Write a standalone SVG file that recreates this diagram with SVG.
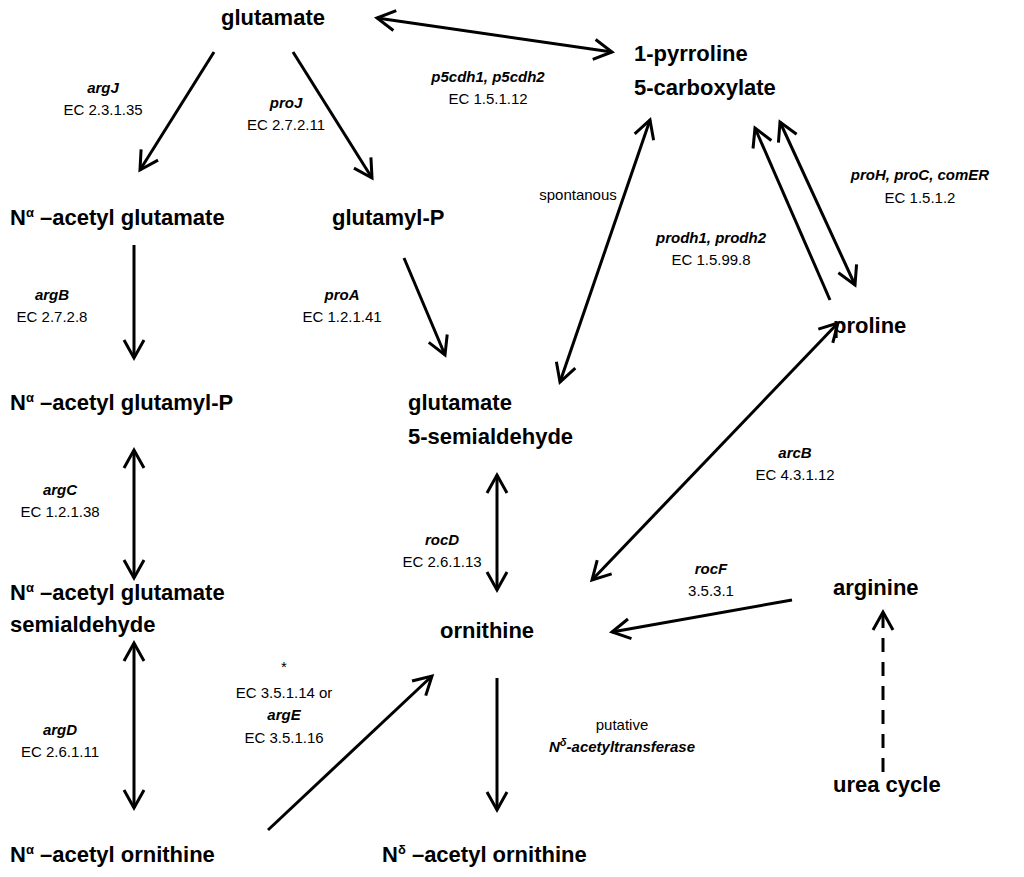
<svg xmlns="http://www.w3.org/2000/svg" width="1024" height="877" viewBox="0 0 1024 877">
<style>
.n{font-family:"Liberation Sans",Arial,sans-serif;font-weight:bold;font-size:22px;fill:#000}
.l{font-family:"Liberation Sans",Arial,sans-serif;font-size:15px;fill:#000;text-anchor:middle}
.i{font-style:italic;font-weight:bold}
.c line{stroke:#000;stroke-width:3;fill:none}
.d{stroke-dasharray:14,10}
</style>
<defs>
<marker id="a" viewBox="0 0 24 24" refX="22" refY="12" markerWidth="24" markerHeight="24" markerUnits="userSpaceOnUse" orient="auto-start-reverse" style="overflow:visible">
<polyline points="4,2 22,12 4,22" fill="none" stroke="#000" stroke-width="3"/>
</marker>
</defs>
<rect width="1024" height="877" fill="#fff"/>
<g class="c" id="connectors">
<line x1="377" y1="18" x2="612" y2="52" marker-start="url(#a)" marker-end="url(#a)"/>
<line x1="214" y1="52" x2="140" y2="170" marker-end="url(#a)"/>
<line x1="293" y1="52" x2="372" y2="178" marker-end="url(#a)"/>
<line x1="134" y1="245" x2="134" y2="358" marker-end="url(#a)"/>
<line x1="404" y1="258" x2="445" y2="355" marker-end="url(#a)"/>
<line x1="134" y1="450" x2="134" y2="578" marker-start="url(#a)" marker-end="url(#a)"/>
<line x1="134" y1="643" x2="134" y2="808" marker-start="url(#a)" marker-end="url(#a)"/>
<line x1="268" y1="830" x2="432" y2="676" marker-end="url(#a)"/>
<line x1="497" y1="678" x2="497" y2="810" marker-end="url(#a)"/>
<line x1="497" y1="475" x2="497" y2="590" marker-start="url(#a)" marker-end="url(#a)"/>
<line x1="560" y1="382" x2="650" y2="120" marker-start="url(#a)" marker-end="url(#a)"/>
<line x1="830" y1="300" x2="755" y2="128" marker-end="url(#a)"/>
<line x1="780" y1="122" x2="855" y2="285" marker-start="url(#a)" marker-end="url(#a)"/>
<line x1="592" y1="580" x2="838" y2="323" marker-start="url(#a)" marker-end="url(#a)"/>
<line x1="792" y1="600" x2="612" y2="632" marker-end="url(#a)"/>
<line class="d" x1="883" y1="772" x2="883" y2="612" marker-end="url(#a)"/>
</g>
<g id="glutamate"><text class="n" x="273" y="25" text-anchor="middle">glutamate</text></g>
<g id="p5c"><text class="n" x="634" y="61">1-pyrroline</text><text class="n" x="634" y="95">5-carboxylate</text></g>
<g id="nag"><text class="n" x="10" y="225">N<tspan font-size="13" dy="-8">α</tspan><tspan dy="8"> –acetyl glutamate</tspan></text></g>
<g id="glutamylP"><text class="n" x="332" y="225">glutamyl-P</text></g>
<g id="nagp"><text class="n" x="10" y="410">N<tspan font-size="13" dy="-8">α</tspan><tspan dy="8"> –acetyl glutamyl-P</tspan></text></g>
<g id="gsa"><text class="n" x="408" y="410">glutamate</text><text class="n" x="408" y="444">5-semialdehyde</text></g>
<g id="proline"><text class="n" x="833" y="333">proline</text></g>
<g id="nags"><text class="n" x="10" y="600">N<tspan font-size="13" dy="-8">α</tspan><tspan dy="8"> –acetyl glutamate</tspan></text><text class="n" x="10" y="632">semialdehyde</text></g>
<g id="ornithine"><text class="n" x="440" y="638">ornithine</text></g>
<g id="arginine"><text class="n" x="833" y="595">arginine</text></g>
<g id="urea"><text class="n" x="833" y="792">urea cycle</text></g>
<g id="nao"><text class="n" x="10" y="862">N<tspan font-size="13" dy="-8">α</tspan><tspan dy="8"> –acetyl ornithine</tspan></text></g>
<g id="ndo"><text class="n" x="382" y="862">N<tspan font-size="13" dy="-8">δ</tspan><tspan dy="8"> –acetyl ornithine</tspan></text></g>
<g id="labels">
<text class="l i" x="103" y="93">argJ</text><text class="l" x="103" y="115">EC 2.3.1.35</text>
<text class="l i" x="286" y="108">proJ</text><text class="l" x="286" y="130">EC 2.7.2.11</text>
<text class="l i" x="488" y="82">p5cdh1, p5cdh2</text><text class="l" x="488" y="104">EC 1.5.1.12</text>
<text class="l" x="578" y="200">spontanous</text>
<text class="l i" x="920" y="180">proH, proC, comER</text><text class="l" x="920" y="203">EC 1.5.1.2</text>
<text class="l i" x="711" y="243">prodh1, prodh2</text><text class="l" x="711" y="265">EC 1.5.99.8</text>
<text class="l i" x="52" y="300">argB</text><text class="l" x="52" y="322">EC 2.7.2.8</text>
<text class="l i" x="342" y="300">proA</text><text class="l" x="342" y="322">EC 1.2.1.41</text>
<text class="l i" x="795" y="458">arcB</text><text class="l" x="795" y="480">EC 4.3.1.12</text>
<text class="l i" x="60" y="495">argC</text><text class="l" x="60" y="517">EC 1.2.1.38</text>
<text class="l i" x="442" y="545">rocD</text><text class="l" x="442" y="567">EC 2.6.1.13</text>
<text class="l i" x="711" y="574">rocF</text><text class="l" x="711" y="596">3.5.3.1</text>
<text class="l" x="284" y="672">*</text><text class="l" x="284" y="698">EC 3.5.1.14 or</text><text class="l i" x="284" y="720">argE</text><text class="l" x="284" y="743">EC 3.5.1.16</text>
<text class="l i" x="60" y="735">argD</text><text class="l" x="60" y="757">EC 2.6.1.11</text>
<text class="l" x="622" y="730">putative</text><text class="l i" x="622" y="752">N<tspan font-size="11" dy="-6">δ</tspan><tspan dy="6">-acetyltransferase</tspan></text>
</g>
</svg>
